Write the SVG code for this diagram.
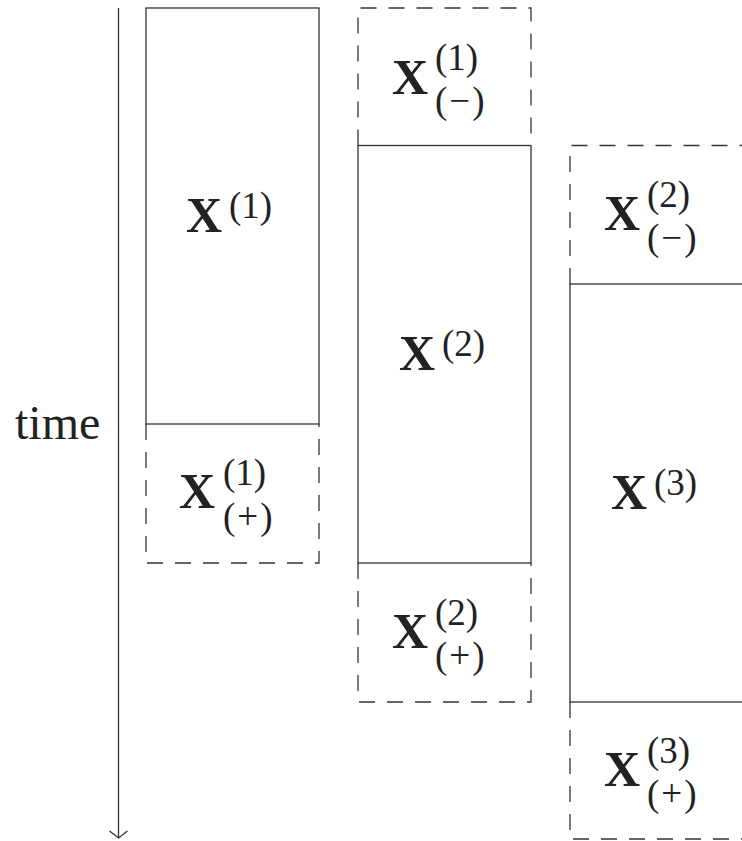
<svg xmlns="http://www.w3.org/2000/svg" width="742" height="841" viewBox="0 0 742 841">
  <defs>
    <marker id="arrowhead" markerUnits="userSpaceOnUse" markerWidth="24" markerHeight="20" viewBox="-12 -10 24 20" refX="0" refY="0" orient="auto">
      <path d="M-7,-9 L0,0 L-7,9" fill="none" stroke="#333" stroke-width="1.3" stroke-linejoin="miter"/>
    </marker>
  </defs>
  <style>
    .solid { fill: none; stroke: #333; stroke-width: 1.3; }
    .dash { fill: none; stroke: #333; stroke-width: 1.3; stroke-dasharray: 16 12; }
    .X { font-family: "Liberation Serif", "Times New Roman", serif; font-weight: bold; font-size: 50px; fill: #222; }
    .s { font-family: "Liberation Serif", "Times New Roman", serif; font-size: 37px; fill: #222; }
    .lbl { font-family: "Liberation Serif", "Times New Roman", serif; font-size: 48px; fill: #222; }
  </style>
  <rect width="742" height="841" fill="#fff"/>

  <g id="connectors">
    <line x1="118.5" y1="8" x2="118.5" y2="838" stroke="#333" stroke-width="1.3" marker-end="url(#arrowhead)"/>
  </g>

  <g id="time-label">
    <text class="lbl" x="15" y="439">time</text>
  </g>

  <g id="X1">
    <rect class="solid" x="146" y="8" width="173" height="416"/>
    <text class="X" x="186" y="232">X</text>
    <text class="s" x="229" y="218">(1)</text>
  </g>
  <g id="X1plus">
    <path class="dash" d="M146,424 V563 H319 V424"/>
    <text class="X" x="179" y="508">X</text>
    <text class="s" x="223" y="485">(1)</text>
    <text class="s" x="223" y="529">(<tspan dx="2">+</tspan><tspan dx="2">)</tspan></text>
  </g>

  <g id="X1minus">
    <path class="dash" d="M358,145.5 V8 H531 V145.5"/>
    <text class="X" x="392" y="94">X</text>
    <text class="s" x="435" y="70">(1)</text>
    <text class="s" x="435" y="113">(<tspan dx="2">−</tspan><tspan dx="2">)</tspan></text>
  </g>
  <g id="X2">
    <rect class="solid" x="358" y="145.5" width="173" height="417.5"/>
    <text class="X" x="399" y="370">X</text>
    <text class="s" x="442" y="356">(2)</text>
  </g>
  <g id="X2plus">
    <path class="dash" d="M358,563 V702 H531 V563"/>
    <text class="X" x="392" y="648">X</text>
    <text class="s" x="435" y="625">(2)</text>
    <text class="s" x="435" y="668">(<tspan dx="2">+</tspan><tspan dx="2">)</tspan></text>
  </g>

  <g id="X2minus">
    <path class="dash" d="M570,284 V145.5 H744 V284"/>
    <text class="X" x="604" y="230">X</text>
    <text class="s" x="647" y="207">(2)</text>
    <text class="s" x="647" y="250">(<tspan dx="2">−</tspan><tspan dx="2">)</tspan></text>
  </g>
  <g id="X3">
    <rect class="solid" x="570" y="284" width="174" height="418"/>
    <text class="X" x="611" y="509">X</text>
    <text class="s" x="654" y="495">(3)</text>
  </g>
  <g id="X3plus">
    <path class="dash" d="M570,702 V839 H744 V702"/>
    <text class="X" x="604" y="786">X</text>
    <text class="s" x="647" y="763">(3)</text>
    <text class="s" x="647" y="806">(<tspan dx="2">+</tspan><tspan dx="2">)</tspan></text>
  </g>
</svg>
